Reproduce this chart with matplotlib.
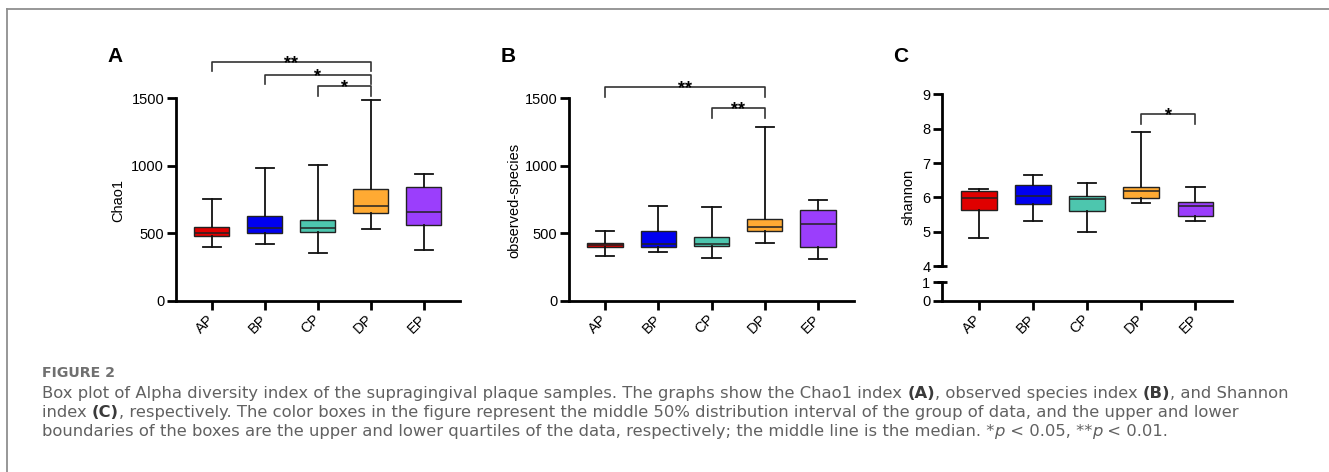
import matplotlib
matplotlib.use("Agg")
import matplotlib.pyplot as plt
from matplotlib.lines import Line2D

plt.rcParams['font.family'] = ['Liberation Sans', 'DejaVu Sans']

W, H = 1329, 472

groups = ["AP", "BP", "CP", "DP", "EP"]
box_colors = ["#E00000", "#0000F0", "#4DC6AE", "#FFAA33", "#9B3EFC"]

# Chao1 (A)
chao1_low = [400, 419, 355, 533, 377]
chao1_q1 = [481, 506, 513, 654, 560]
chao1_med = [506, 543, 543, 706, 661]
chao1_q3 = [550, 632, 602, 827, 841]
chao1_high = [752, 984, 1004, 1490, 938]
chao1_sig = [("AP", "DP", "**", 1770), ("BP", "DP", "*", 1675), ("CP", "DP", "*", 1589)]

# observed species (B)
obs_low = [333, 360, 321, 432, 311]
obs_q1 = [397, 402, 405, 521, 400]
obs_med = [415, 424, 424, 545, 570]
obs_q3 = [429, 521, 471, 609, 671]
obs_high = [521, 701, 696, 1285, 750]
obs_sig = [("AP", "DP", "**", 1584), ("CP", "DP", "**", 1431)]

# shannon (C)
shan_low = [4.82, 5.33, 5.01, 5.83, 5.32]
shan_q1 = [5.64, 5.81, 5.61, 5.99, 5.47]
shan_med = [5.98, 6.03, 5.95, 6.18, 5.75]
shan_q3 = [6.18, 6.37, 6.03, 6.30, 5.86]
shan_high = [6.25, 6.66, 6.43, 7.90, 6.30]
shan_sig = [("DP", "EP", "*", 8.44)]

caption_lines = [
    [("Box plot of Alpha diversity index of the supragingival plaque samples. "
      "The graphs show the Chao1 index ", "n"), ("(A)", "b"),
     (", observed species index ", "n"), ("(B)", "b"), (", and Shannon", "n")],
    [("index ", "n"), ("(C)", "b"),
     (", respectively. The color boxes in the figure represent the middle 50% distribution "
      "interval of the group of data, and the upper and lower", "n")],
    [("boundaries of the boxes are the upper and lower quartiles of the data, respectively; "
      "the middle line is the median. *", "n"), ("p", "i"), (" < 0.05, **", "n"),
     ("p", "i"), (" < 0.01.", "n")],
]


def px_axes(left, right, bottom, top):
    # pixel box (y from top of image) -> figure axes
    return fig.add_axes([left / W, 1 - bottom / H, (right - left) / W, (bottom - top) / H])


def make_stats(lo, q1, med, q3, hi):
    return [dict(whislo=a, q1=b, med=c, q3=d, whishi=e, fliers=[])
            for a, b, c, d, e in zip(lo, q1, med, q3, hi)]


def draw_boxes(ax, stats):
    bp = ax.bxp(stats, positions=range(1, 6), widths=0.66, capwidths=0.34,
                patch_artist=True, showfliers=False,
                boxprops=dict(linewidth=1.0, edgecolor="#222222"),
                medianprops=dict(color="#222222", linewidth=1.1),
                whiskerprops=dict(color="#111111", linewidth=1.3),
                capprops=dict(color="#111111", linewidth=1.3))
    for patch, c in zip(bp["boxes"], box_colors):
        patch.set_facecolor(c)


def style_axis(ax, show_x=True):
    for s in ["top", "right"]:
        ax.spines[s].set_visible(False)
    for s in ["left", "bottom"]:
        ax.spines[s].set_linewidth(2)
    ax.tick_params(width=2, length=6.5, labelsize=10.5, pad=2, color="black")
    ax.set_xlim(0.33, 5.68)
    if show_x:
        ax.set_xticks(range(1, 6), groups, rotation=45, ha="right", va="center",
                      rotation_mode="anchor")
        ax.tick_params(axis="x", pad=5)
    else:
        ax.spines["bottom"].set_visible(False)
        ax.set_xticks([])


def draw_sig(ax, pairs, drop):
    for g1, g2, label, y in pairs:
        x1 = groups.index(g1) + 1
        x2 = groups.index(g2) + 1
        ax.plot([x1, x1, x2, x2], [y - drop, y, y, y - drop], color="#333333",
                lw=1.2, clip_on=False)
        ax.annotate(label, xy=((x1 + x2) / 2, y), xytext=(0, -4.5),
                    textcoords="offset points", ha="center", va="baseline",
                    fontsize=13, fontweight="bold")


fig = plt.figure(figsize=(W / 100, H / 100), dpi=100)

# panel A
ax_a = px_axes(176, 460, 301, 57.8)
draw_boxes(ax_a, make_stats(chao1_low, chao1_q1, chao1_med, chao1_q3, chao1_high))
style_axis(ax_a)
ax_a.set_ylim(0, 1800)
ax_a.spines["left"].set_bounds(0, 1500)
ax_a.set_yticks([0, 500, 1000, 1500])
draw_sig(ax_a, chao1_sig, 70)

# panel B
ax_b = px_axes(569.3, 854.3, 301, 57.8)
draw_boxes(ax_b, make_stats(obs_low, obs_q1, obs_med, obs_q3, obs_high))
style_axis(ax_b)
ax_b.set_ylim(0, 1800)
ax_b.spines["left"].set_bounds(0, 1500)
ax_b.set_yticks([0, 500, 1000, 1500])
draw_sig(ax_b, obs_sig, 75)

# panel C, broken y axis
ax_c = px_axes(942.3, 1232.3, 266.3, 94.3)
ax_c0 = px_axes(942.3, 1232.3, 301, 282.3)
draw_boxes(ax_c, make_stats(shan_low, shan_q1, shan_med, shan_q3, shan_high))
style_axis(ax_c, show_x=False)
ax_c.set_ylim(4, 9)
ax_c.set_yticks(range(4, 10))
draw_sig(ax_c, shan_sig, 0.3)

style_axis(ax_c0)
ax_c0.set_ylim(0, 1)
ax_c0.set_yticks([0, 1])
ax_c0.patch.set_alpha(0)
ax_c.patch.set_alpha(0)
for a, yv in [(ax_c, 4), (ax_c0, 1)]:
    a.plot([0], [yv], marker="_", markersize=7.5, markeredgewidth=2, color="black",
           transform=a.get_yaxis_transform(), clip_on=False)

# y labels and panel letters
for x, y, s in [(118, 201, "Chao1"), (514, 200, "observed-species"), (909, 197, "shannon")]:
    fig.text(x / W, 1 - y / H, s, rotation=90, ha="center", va="center", fontsize=10.5)
for x, s in [(114.7, "A"), (507.7, "B"), (901, "C")]:
    fig.text(x / W, 1 - 56.7 / H, s, ha="center", va="center", fontsize=15,
             fontweight="bold")

# frame lines
fig.add_artist(Line2D([7 / W, 1], [1 - 9 / H] * 2, transform=fig.transFigure,
                      color="#8f8f8f", lw=1.3))
fig.add_artist(Line2D([7 / W, 7 / W], [0, 1 - 9 / H], transform=fig.transFigure,
                      color="#8f8f8f", lw=1.3))

# caption: font size chosen so the first line spans the same width as the reference
cap_font = ["DejaVu Sans"]
renderer = fig.canvas.get_renderer()
probe = fig.text(0, 0, "".join(s for s, _ in caption_lines[0]), fontsize=10,
                 family=cap_font)
cap_size = 10 * 1238 / probe.get_window_extent(renderer).width
probe.remove()


def rich_line(x_px, y_px, parts):
    x = x_px
    for s, style in parts:
        kw = dict(color="#616161")
        if style == "b":
            kw = dict(color="#3a3a3a", fontweight="bold")
        elif style == "i":
            kw["fontstyle"] = "italic"
        t = fig.text(x / W, 1 - y_px / H, s, fontsize=cap_size, family=cap_font,
                     va="baseline", ha="left", **kw)
        x = t.get_window_extent(renderer).x1


fig.text(42 / W, 1 - 377 / H, "FIGURE 2", fontsize=cap_size * 0.86, family=cap_font,
         color="#707070", fontweight="bold", va="baseline")
for line, y in zip(caption_lines, [398, 417, 436]):
    rich_line(42, y, line)

fig.savefig("out.png", dpi=100)
